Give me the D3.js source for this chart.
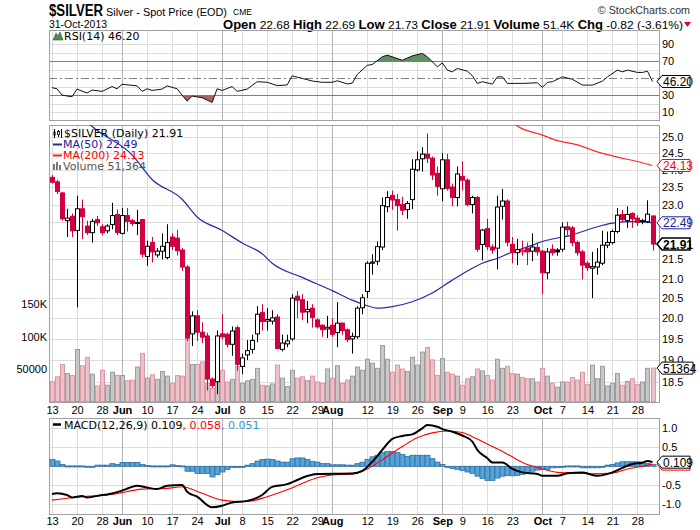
<!DOCTYPE html>
<html>
<head>
<meta charset="utf-8">
<script src="https://cdnjs.cloudflare.com/ajax/libs/d3/7.8.5/d3.min.js"></script>
<style>
  body { margin: 0; background: #fff; }
  svg { display: block; }
</style>
</head>
<body>
<div id="chart"></div>
<script>
// trading days shown (weekdays, minus exchange holidays)
const startDay = "2013-05-13";
const endDay = "2013-10-31";
const holidays = ["2013-05-27", "2013-07-04", "2013-09-02"];

const opens = [23.78,23.65,23.33,22.55,22.67,22.28,22.88,22.4,22.22,22.58,22.38,22.27,22.44,22.72,22.2,22.69,22.55,22.5,22.58,21.58,
  21.95,21.62,21.72,21.55,22.1,22.07,21.75,21.3,19.62,20.06,19.66,19.57,18.56,18.5,19.62,19.61,19.37,19.77,18.85,19.12,
  19.25,19.62,20.14,19.93,19.93,20.03,19.25,19.38,19.5,20.55,20.46,20.16,20.25,19.96,19.83,19.74,19.83,19.65,19.88,19.72,
  19.5,19.55,20.26,20.67,21.4,21.45,21.83,22.94,23.26,23.14,23.0,22.86,23.14,24.0,24.33,24.47,24.35,23.9,23.45,24.3,
  23.5,23.2,23.81,23.7,23.0,23.2,21.9,22.33,21.83,21.8,22.95,23.1,21.9,21.68,21.7,21.8,21.72,21.82,21.72,21.15,
  21.77,21.75,21.77,22.38,22.35,21.95,21.7,21.4,21.27,21.3,21.4,21.88,21.95,22.25,22.72,22.55,22.75,22.62,22.55,22.52,22.68];
const highs = [23.85,23.7,23.36,22.88,22.75,23.25,23.14,22.55,22.6,22.68,22.45,22.45,23.05,22.86,22.9,22.9,22.6,22.85,22.6,22.0,
  22.1,21.8,22.2,22.45,22.2,22.3,21.8,21.35,20.17,20.2,19.9,19.65,18.6,19.7,20.1,19.65,19.8,19.82,19.15,19.47,
  19.6,20.3,20.35,20.25,20.2,20.1,19.6,19.6,20.6,20.68,20.6,20.43,20.35,20.0,19.85,20.06,20.0,20.4,19.9,19.75,
  19.65,20.3,20.6,21.45,21.64,21.98,23.2,23.38,23.4,23.3,23.22,23.1,24.32,24.55,24.68,25.1,24.4,24.1,24.5,24.48,
  23.6,24.1,24.25,23.75,23.25,23.25,22.32,22.6,21.9,23.25,23.45,23.15,22.1,22.05,22.0,21.95,22.2,21.95,21.75,21.8,
  21.9,21.8,22.5,22.52,22.4,22.0,21.75,21.45,21.7,21.8,22.27,22.25,22.3,22.9,22.85,22.95,22.78,22.7,22.6,23.12,22.69];
const lows = [23.6,23.3,22.55,22.1,22.1,20.27,22.04,22.15,21.95,22.4,22.15,22.2,22.31,22.15,22.17,22.25,22.4,22.15,21.55,21.33,
  21.42,21.55,21.5,21.5,21.75,21.6,21.2,19.45,19.33,19.45,19.4,18.3,18.36,18.22,19.5,19.3,19.1,18.75,18.67,19.0,
  19.15,19.42,19.7,19.7,19.85,19.25,19.2,19.3,19.45,20.0,19.95,19.88,19.77,19.75,19.55,19.52,19.55,19.3,19.6,19.42,
  19.15,19.5,20.1,20.5,21.1,21.35,21.75,22.78,22.85,22.27,22.7,22.6,22.87,23.95,23.95,24.2,23.7,23.25,23.1,23.4,
  22.95,22.95,23.4,22.95,22.75,21.7,21.47,21.75,21.65,21.24,22.58,21.85,21.4,21.35,21.6,21.35,21.45,21.6,20.6,20.98,
  21.6,21.6,21.7,22.15,21.85,21.6,20.98,21.2,20.5,21.1,21.35,21.8,21.9,22.2,22.5,22.35,22.35,22.4,22.45,22.48,21.73];
const closes = [23.64,23.37,22.6,22.62,22.27,22.88,22.66,22.22,22.53,22.49,22.22,22.4,22.69,22.22,22.69,22.53,22.47,22.5,21.64,21.85,
  21.7,21.72,21.85,21.95,21.85,21.73,21.3,19.52,20.06,19.66,19.54,18.56,18.41,19.57,19.55,19.37,19.69,18.9,19.05,19.22,
  19.46,20.1,19.92,19.97,20.01,19.27,19.4,19.45,20.5,20.45,20.15,20.22,20.02,19.79,19.72,19.78,19.61,19.88,19.7,19.48,
  19.56,20.25,20.51,21.4,21.43,21.84,22.97,23.2,23.13,22.97,22.84,23.03,24.02,24.3,24.47,24.35,23.85,23.52,24.3,23.46,
  23.2,23.88,23.7,23.0,23.2,21.77,22.29,21.84,21.75,22.93,23.1,21.96,21.68,21.76,21.74,21.7,21.83,21.7,21.15,21.7,
  21.68,21.7,22.37,22.3,21.95,21.68,21.35,21.28,21.31,21.43,21.88,21.95,22.25,22.7,22.58,22.72,22.6,22.5,22.52,22.73,21.91];
const volumes = [30500,38000,57000,43000,40000,80000,55000,68000,42000,24000,48000,25000,45000,40000,40000,32000,33000,53000,74000,36000,
  41000,34000,46000,39000,28000,40000,39000,99000,57000,57000,61000,28000,20000,73000,48000,30000,34000,54000,28000,32000,
  34000,51000,25000,24000,27000,56000,36000,23000,48000,36000,38000,32000,39000,30000,28000,50000,36000,55000,28000,33000,
  39000,53000,48000,65000,59000,51000,86000,65000,45000,56000,50000,46000,68000,56000,76000,83000,64000,40000,66000,45000,
  42000,39000,25000,35000,38000,50000,47000,40000,33000,65000,51000,54000,43000,42000,37000,35000,35000,30000,51000,39000,
  28000,22000,30000,30000,37000,33000,45000,26000,56000,35000,54000,24000,28000,43000,25000,31000,35000,26000,30000,51000,51364];

// moving averages, read at trading-day numbers
const ma50Day = [4,7,9,16,20,26,29,34,38,42,44,50,56,60,63,65,68,72,76,80,84,86,89,92,96,98,104,108,112,116,120];
const ma50 = [26.0,25.45,25.2,24.45,23.72,23.15,22.65,22.28,21.94,21.65,21.4,21.03,20.69,20.45,20.31,20.25,20.29,20.41,20.63,20.96,21.27,21.4,21.53,21.7,21.88,21.98,22.16,22.34,22.48,22.52,22.49];
const ma200Day = [92,93,98,101,105,109,113,117,120];
const ma200 = [25.45,25.33,25.05,24.88,24.75,24.54,24.38,24.25,24.13];

const rsiDay = [0,1,2,4,5,7,8,10,12,13,14,17,18,19,20,22,23,25,26,27,28,30,32,33,34,36,37,39,41,43,45,47,48,50,52,54,56,57,59,60,
  61,63,64,66,67,70,72,74,75,77,78,79,80,81,83,84,85,86,88,89,90,91,94,97,98,99,100,102,104,106,108,110,111,113,114,115,117,118,119,120];
const rsi = [39,37.7,30.2,28.3,37.3,32.7,36.2,34.6,40.3,37.7,43,41.1,34.6,37.7,35.7,37.3,41.1,37.7,30.2,23.1,29.1,27.1,21.7,37.7,35.7,40.3,34.6,37.3,46,45.3,41.4,42.2,52.9,49.9,46.8,45.3,45.3,47.1,43.4,44.2,
  54.5,65.3,66.2,75.3,77.3,71.2,76.4,79.3,75.3,63.5,68.1,59.6,57.6,61.6,58.4,53,44,46,43.2,51.7,51.7,44,44,44.7,39.3,45.2,46,51.7,48.8,42,42,46.7,51.7,59.6,57.6,59.6,56.9,56.9,58.4,46.2];

const macdDay = [0,1,3,4,6,7,10,11,14,15,17,19,21,23,26,27,29,32,34,36,39,42,44,47,49,51,53,60,62,64,66,68,70,72,74,75,77,78,80,82,
  84,85,87,88,90,92,94,97,98,101,103,106,108,109,112,114,116,118,119,120];
const macd = [-0.73,-0.71,-0.755,-0.82,-0.78,-0.82,-0.755,-0.74,-0.64,-0.59,-0.51,-0.56,-0.6,-0.51,-0.49,-0.67,-0.8,-1.08,-1.04,-0.95,-0.91,-0.755,-0.54,-0.47,-0.36,-0.255,-0.2,-0.19,-0.12,0.12,
  0.43,0.72,0.8,0.84,1.0,1.09,1.04,0.98,0.91,0.81,0.65,0.43,0.21,0.1,0.1,-0.07,-0.16,-0.2,-0.25,-0.25,-0.18,-0.16,-0.23,-0.25,-0.16,-0.04,0.06,0.095,0.14,0.109];
const signalDay = [0,6,12,18,23,26,30,34,38,40,43,47,50,53,56,60,63,66,70,73,76,79,82,84,88,91,94,98,101,105,108,112,115,118,120];
const signal = [-0.89,-0.8,-0.74,-0.6,-0.58,-0.54,-0.71,-0.89,-0.93,-0.91,-0.8,-0.62,-0.45,-0.3,-0.23,-0.2,-0.07,0.17,0.52,0.75,0.88,0.93,0.89,0.78,0.52,0.32,0.1,-0.07,-0.16,-0.18,-0.2,-0.18,-0.07,0.0,0.058];
const histogram = [0.18,0.14,0.05,0.01,0.01,0.01,0.01,-0.02,0.0,0.03,0.03,0.03,0.07,0.05,0.1,0.1,0.1,0.1,0.05,0.02,
  0.01,0.01,0.01,0.01,0.04,0.02,0.01,-0.13,-0.13,-0.19,-0.19,-0.19,-0.28,-0.22,-0.15,-0.08,-0.03,-0.03,0.0,0.03,
  0.07,0.14,0.18,0.19,0.18,0.14,0.11,0.11,0.2,0.22,0.22,0.18,0.13,0.11,0.07,0.07,0.04,0.04,0.04,0.03,
  0.03,0.07,0.11,0.18,0.25,0.29,0.36,0.39,0.39,0.36,0.31,0.26,0.29,0.29,0.29,0.29,0.2,0.11,0.05,0.0,
  -0.06,-0.08,-0.11,-0.15,-0.19,-0.26,-0.32,-0.37,-0.37,-0.31,-0.26,-0.24,-0.25,-0.24,-0.21,-0.17,-0.13,-0.1,-0.08,-0.08,
  -0.04,-0.03,0.0,0.01,0.01,0.01,-0.04,-0.04,-0.04,-0.04,-0.02,0.03,0.05,0.09,0.12,0.12,0.12,0.12,0.11,0.08,0.051];

const tickDates = ["2013-05-13","2013-05-20","2013-05-28","2013-06-03","2013-06-10","2013-06-17","2013-06-24","2013-07-01",
  "2013-07-08","2013-07-15","2013-07-22","2013-07-29","2013-08-01","2013-08-12","2013-08-19","2013-08-26","2013-09-03",
  "2013-09-09","2013-09-16","2013-09-23","2013-10-01","2013-10-07","2013-10-14","2013-10-21","2013-10-28"];
const tickLabels = ["13","20","28","Jun","10","17","24","Jul","8","15","22","29","Aug","12","19","26","Sep","9","16","23","Oct","7","14","21","28"];
const priceTicks = [18.5,19.0,19.5,20.0,20.5,21.0,21.5,22.0,22.5,23.0,23.5,24.0,24.5,25.0];
const priceTickShown = [18.5,19.0,19.5,20.0,20.5,21.0,21.5,23.0,23.5,24.0,24.5,25.0];
const volumeTicks = [50000,100000,150000];
const volumeTickLabels = ["50000","100K","150K"];
const rsiTicks = [10,20,30,40,50,60,70,80,90];
const macdTicks = [-1.0,-0.5,0,0.5,1.0];

// ---- layout ----
const width = 700, height = 530;
const left = 49, right = 659;
const rsiTop = 30, rsiBot = 120, mainTop = 125, mainBot = 402, macdTop = 418, macdBot = 514;
const upColor = "#000", downColor = "#d2003c";
const labelFont = "'Liberation Sans', Arial, sans-serif";
const legendFont = "'DejaVu Sans', Verdana, sans-serif";

const parse = d3.timeParse("%Y-%m-%d"), fmt = d3.timeFormat("%Y-%m-%d");
const days = d3.timeDay
  .range(parse(startDay), d3.timeDay.offset(parse(endDay), 1))
  .filter(d => d.getDay() % 6 !== 0 && !holidays.includes(fmt(d)))
  .map(fmt);

const x = d3.scalePoint().domain(days).range([52, 652.5]);
const xi = i => x(days[i]);
const px = i => Math.round(xi(i));

const yPrice = d3.scaleLog().domain([18.5, 25]).range([381.7, 136.7]);
const yVol = d3.scaleLinear().domain([0, 150000]).range([401.5, 304]);
const yRsi = d3.scaleLinear().domain([0, 100]).range([120.8, 35.8]);
const yMacd = d3.scaleLinear().domain([-1, 1]).range([504.3, 428.3]);

const svg = d3.select("#chart").append("svg")
  .attr("width", width).attr("height", height)
  .style("font-family", labelFont);

const defs = svg.append("defs");
[["clipRsi", rsiTop, rsiBot], ["clipMain", mainTop, mainBot], ["clipMacd", macdTop, macdBot]].forEach(c => {
  defs.append("clipPath").attr("id", c[0])
    .append("rect").attr("x", left).attr("y", c[1]).attr("width", right - left).attr("height", c[2] - c[1]);
});
defs.append("clipPath").attr("id", "clipOver")
  .append("rect").attr("x", left).attr("y", rsiTop).attr("width", right - left).attr("height", yRsi(70) - rsiTop);
defs.append("clipPath").attr("id", "clipUnder")
  .append("rect").attr("x", left).attr("y", yRsi(30)).attr("width", right - left).attr("height", rsiBot - yRsi(30));

// ---- header (narrow look: squeeze with textLength) ----
function squeeze(sel, w) {
  return sel.attr("textLength", w).attr("lengthAdjust", "spacingAndGlyphs");
}
squeeze(svg.append("text").attr("x", 49).attr("y", 16).text("$SILVER")
  .style("font-weight", "bold").style("font-size", "16px"), 54);
squeeze(svg.append("text").attr("x", 106).attr("y", 16).text("Silver - Spot Price (EOD)")
  .style("font-size", "10.8px"), 121);
svg.append("text").attr("x", 233).attr("y", 14.5).text("CME")
  .style("font-size", "8.5px");
svg.append("text").attr("x", 690).attr("y", 14).attr("text-anchor", "end").text("\u00a9 StockCharts.com")
  .style("font-size", "10.7px").style("fill", "#333");
squeeze(svg.append("text").attr("x", 49).attr("y", 28).text("31-Oct-2013")
  .style("font-size", "10.5px"), 58);

var quote = svg.append("text").attr("x", 683).attr("y", 28.5).attr("text-anchor", "end")
  .style("font-size", "11.5px");
[["Open", " 22.68 "], ["High", " 22.69 "], ["Low", " 21.73 "], ["Close", " 21.91 "], ["Volume", " 51.4K "], ["Chg", " -0.82 (-3.61%)"]]
  .forEach(p => {
    quote.append("tspan").text(p[0]).style("font-weight", "bold").style("font-size", "12.5px");
    quote.append("tspan").text(p[1]);
  });
squeeze(quote, 460);
svg.append("path").attr("d", "M684,22 L691,22 L687.5,27 Z").attr("fill", downColor);

// ---- panel frames + grids ----
function vGrid(top, bot) {
  svg.append("g").selectAll("line").data(tickDates).join("line")
    .attr("x1", d => Math.round(x(d)) + 0.5).attr("x2", d => Math.round(x(d)) + 0.5)
    .attr("y1", top).attr("y2", bot)
    .attr("stroke", (d, i) => isNaN(+tickLabels[i]) ? "#b4b4b4" : "#dcdcdc");
}
function hGrid(vals, scale, color) {
  svg.append("g").selectAll("line").data(vals).join("line")
    .attr("x1", left).attr("x2", right)
    .attr("y1", d => Math.round(scale(d)) + 0.5).attr("y2", d => Math.round(scale(d)) + 0.5)
    .attr("stroke", color || "#dcdcdc");
}
function frame(top, bot) {
  svg.append("rect").attr("x", left + 0.5).attr("y", top + 0.5)
    .attr("width", right - left).attr("height", bot - top)
    .attr("fill", "none").attr("stroke", "#a0a0a0");
}

// RSI panel
hGrid(rsiTicks.filter(v => v !== 30 && v !== 50 && v !== 70), yRsi);
vGrid(rsiTop, rsiBot);
hGrid([30, 70], yRsi, "#808080");
svg.append("line").attr("x1", left).attr("x2", right)
  .attr("y1", Math.round(yRsi(50)) + 0.5).attr("y2", Math.round(yRsi(50)) + 0.5)
  .attr("stroke", "#808080").attr("stroke-dasharray", "8,3,2,3");
frame(rsiTop, rsiBot);

// main panel
hGrid(priceTicks, yPrice);
vGrid(mainTop, mainBot);
frame(mainTop, mainBot);

// MACD panel
hGrid(macdTicks, yMacd);
vGrid(macdTop, macdBot);
frame(macdTop, macdBot);

// ---- RSI ----
const rsiPts = rsiDay.map((d, i) => [d, rsi[i]]);
const rsiG = svg.append("g").attr("clip-path", "url(#clipRsi)");
rsiG.append("path").datum(rsiPts).attr("clip-path", "url(#clipOver)")
  .attr("d", d3.area().x(d => xi(d[0])).y0(yRsi(70)).y1(d => yRsi(d[1])))
  .attr("fill", "#5f8f5f");
rsiG.append("path").datum(rsiPts).attr("clip-path", "url(#clipUnder)")
  .attr("d", d3.area().x(d => xi(d[0])).y0(yRsi(30)).y1(d => yRsi(d[1])))
  .attr("fill", "#a56464");
rsiG.append("path").datum(rsiPts)
  .attr("d", d3.line().x(d => xi(d[0])).y(d => yRsi(d[1])))
  .attr("fill", "none").attr("stroke", "#111").attr("stroke-width", 1);

// ---- volume ----
const isUp = i => i > 0 && closes[i] >= closes[i - 1];
svg.append("g").attr("clip-path", "url(#clipMain)")
  .selectAll("rect").data(volumes).join("rect")
  .attr("x", (d, i) => px(i) - 1.5).attr("width", 4)
  .attr("y", d => yVol(d)).attr("height", d => yVol(0) - yVol(d))
  .attr("fill", (d, i) => isUp(i) ? "#c2c2c2" : "#ebbac2")
  .attr("stroke", (d, i) => isUp(i) ? "#9c9c9c" : "#d89aa5")
  .attr("fill-opacity", 0.9);

// ---- moving averages ----
const mainG = svg.append("g").attr("clip-path", "url(#clipMain)");
mainG.append("path").datum(ma50Day.map((d, i) => [d, ma50[i]]))
  .attr("d", d3.line().x(d => xi(d[0])).y(d => yPrice(d[1])).curve(d3.curveMonotoneX))
  .attr("fill", "none").attr("stroke", "#2a2aa5").attr("stroke-width", 1.2);
mainG.append("path").datum(ma200Day.map((d, i) => [d, ma200[i]]))
  .attr("d", d3.line().x(d => xi(d[0])).y(d => yPrice(d[1])).curve(d3.curveMonotoneX))
  .attr("fill", "none").attr("stroke", "#ff2a2a").attr("stroke-width", 1.2);

// ---- candles ----
const candles = mainG.selectAll("g.candle").data(days).join("g").attr("class", "candle");
candles.append("line")
  .attr("x1", (d, i) => px(i) + 0.5).attr("x2", (d, i) => px(i) + 0.5)
  .attr("y1", (d, i) => yPrice(highs[i])).attr("y2", (d, i) => yPrice(lows[i]))
  .attr("stroke", (d, i) => isUp(i) ? upColor : downColor);
candles.append("rect")
  .attr("x", (d, i) => px(i) - 1.5).attr("width", 4)
  .attr("y", (d, i) => yPrice(Math.max(opens[i], closes[i])))
  .attr("height", (d, i) => Math.max(1, Math.abs(yPrice(opens[i]) - yPrice(closes[i]))))
  .attr("fill", (d, i) => closes[i] < opens[i] ? (isUp(i) ? upColor : downColor) : "#fff")
  .attr("stroke", (d, i) => isUp(i) ? upColor : downColor);

// ---- MACD ----
const macdG = svg.append("g").attr("clip-path", "url(#clipMacd)");
macdG.selectAll("rect").data(histogram).join("rect")
  .attr("x", (d, i) => px(i) - 2).attr("width", 5)
  .attr("y", d => Math.min(yMacd(0), yMacd(d)))
  .attr("height", d => Math.max(1, Math.abs(yMacd(d) - yMacd(0))))
  .attr("fill", "#56a3d6").attr("stroke", "#2f6ea5").attr("stroke-width", 0.8);
macdG.append("path").datum(signalDay.map((d, i) => [d, signal[i]]))
  .attr("d", d3.line().x(d => xi(d[0])).y(d => yMacd(d[1])).curve(d3.curveMonotoneX))
  .attr("fill", "none").attr("stroke", "#ff0000").attr("stroke-width", 1.1);
macdG.append("path").datum(macdDay.map((d, i) => [d, macd[i]]))
  .attr("d", d3.line().x(d => xi(d[0])).y(d => yMacd(d[1])).curve(d3.curveMonotoneX))
  .attr("fill", "none").attr("stroke", "#000").attr("stroke-width", 2);

// ---- axis labels ----
function xLabels(yBase) {
  svg.append("g").selectAll("text").data(tickDates).join("text")
    .attr("x", d => x(d) + 0.5).attr("y", yBase).attr("text-anchor", "middle")
    .text((d, i) => tickLabels[i])
    .style("font-size", "11px")
    .style("font-weight", (d, i) => isNaN(+tickLabels[i]) ? "bold" : "normal");
}
xLabels(414);
xLabels(525);

function yLabels(vals, scale, fmtFn) {
  svg.append("g").selectAll("text").data(vals).join("text")
    .attr("x", 662).attr("y", d => scale(d) + 4)
    .text(fmtFn).style("font-size", "11px");
}
yLabels([10, 30, 70, 90], yRsi, d => d);
yLabels(priceTickShown, yPrice, d => d.toFixed(1));
yLabels([-1, -0.5, 0.5, 1], yMacd, d => d.toFixed(1));

svg.append("g").selectAll("text").data(volumeTicks).join("text")
  .attr("x", 47).attr("y", d => yVol(d) + 4).attr("text-anchor", "end")
  .text((d, i) => volumeTickLabels[i]).style("font-size", "11px");

// ---- value tags on the right ----
function tag(y, text, color, w, bold) {
  const x0 = 657, h = 12;
  svg.append("path")
    .attr("d", `M${x0},${y} L${x0 + 5},${y - h / 2} L${x0 + w},${y - h / 2} L${x0 + w},${y + h / 2} L${x0 + 5},${y + h / 2} Z`)
    .attr("fill", "#fff").attr("stroke", color).attr("stroke-width", bold ? 1.6 : 1);
  if (text) {
    svg.append("text").attr("x", x0 + 6).attr("y", y + 4.5).text(text)
      .style("fill", color).style("font-size", "12px").style("font-weight", bold ? "bold" : "normal");
  }
}
tag(yRsi(rsi[rsi.length - 1]), "46.20", "#000", 33);
tag(yPrice(ma200[ma200.length - 1]), "24.13", "#ff0000", 33);
tag(yPrice(ma50[ma50.length - 1]), "22.49", "#22229a", 33);
tag(yPrice(closes[closes.length - 1]), "21.91", "#000", 33, true);
tag(yVol(volumes[volumes.length - 1]), "51364", "#000", 36);
tag(yMacd(signal[signal.length - 1]), "", "#ff0000", 33);
tag(yMacd(macd[macd.length - 1]), "0.109", "#000", 33);

// ---- legends ----
svg.append("path").attr("d", "M53,40 L56,33 L58,36 L60,32 L63,40 Z").attr("fill", "#4f8a4f").attr("stroke", "#2d5e2d").attr("stroke-width", 0.6);
svg.append("text").attr("x", 64).attr("y", 40).text("RSI(14) 46.20")
  .style("font-family", legendFont).style("font-size", "11px");

const lg = svg.append("g").style("font-family", legendFont).style("font-size", "11px");
lg.append("path").attr("d", "M54.5,129 V138 M58.5,130 V137 M61.5,129 V138").attr("stroke", "#000");
lg.append("rect").attr("x", 53.5).attr("y", 131.5).attr("width", 2).attr("height", 4).attr("fill", "#000");
lg.append("rect").attr("x", 57.5).attr("y", 131.5).attr("width", 2).attr("height", 3).attr("fill", "#fff").attr("stroke", "#000").attr("stroke-width", 0.8);
lg.append("text").attr("x", 64).attr("y", 137).text("$SILVER (Daily) 21.91");
lg.append("line").attr("x1", 53).attr("x2", 62).attr("y1", 144.5).attr("y2", 144.5).attr("stroke", "#2a2aa5").attr("stroke-width", 2);
lg.append("text").attr("x", 63).attr("y", 148).text("MA(50) 22.49").style("fill", "#1a1a9a");
lg.append("line").attr("x1", 53).attr("x2", 62).attr("y1", 155.5).attr("y2", 155.5).attr("stroke", "#ff2020").attr("stroke-width", 2);
lg.append("text").attr("x", 63).attr("y", 159).text("MA(200) 24.13").style("fill", "#ff0000");
lg.append("path").attr("d", "M53,170 V164 H55 V170 M56,170 V162 H58 V170 M59,170 V165 H61 V170").attr("fill", "#777");
lg.append("text").attr("x", 63).attr("y", 170).text("Volume 51,364").style("fill", "#555");

svg.append("line").attr("x1", 53).attr("x2", 61).attr("y1", 424.5).attr("y2", 424.5).attr("stroke", "#000").attr("stroke-width", 2.5);
var ml = svg.append("text").attr("x", 64).attr("y", 428.5)
  .style("font-family", legendFont).style("font-size", "11px");
ml.append("tspan").text("MACD(12,26,9) 0.109");
ml.append("tspan").text(", 0.058").style("fill", "#ff0000");
ml.append("tspan").text(", 0.051").style("fill", "#3399cc");
</script>
</body>
</html>
